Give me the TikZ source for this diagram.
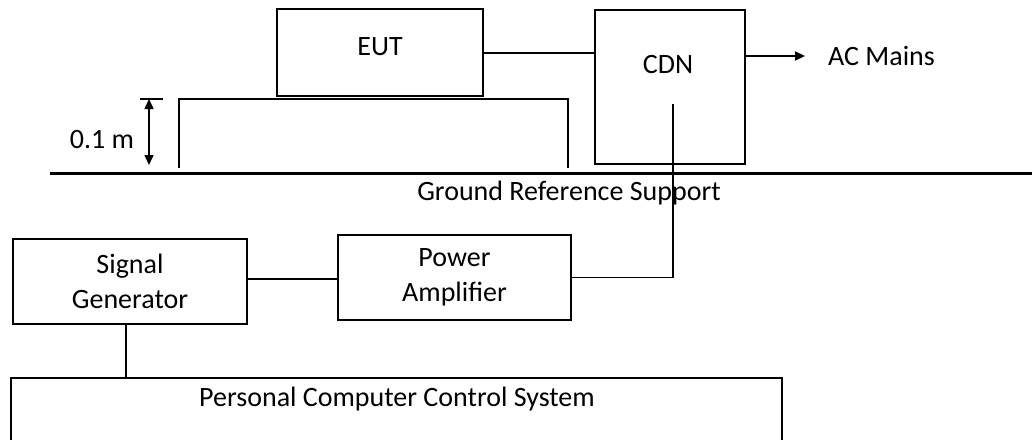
\documentclass[tikz,border=0pt]{standalone}
\usepackage{fontspec}
\setmainfont{Carlito}
\usetikzlibrary{arrows.meta}
\begin{document}
\begin{tikzpicture}[x=1pt, y=-1pt,
  box/.style={draw, line width=2pt, inner sep=0pt, align=center},
  lbl/.style={inner sep=0pt},
  every node/.append style={font=\fontsize{28}{35}\selectfont}]
\clip (0,0) rectangle (1032,439);
% boxes
\node[box, minimum width=206pt, minimum height=87pt] (EUT) at (380,52.5) {};
\node[lbl] at (380,47) {EUT};
\node[box, minimum width=150pt, minimum height=154pt] (CDN) at (670,87) {};
\node[lbl] at (668,65) {CDN};
\node[box, minimum width=234pt, minimum height=85pt] (SG) at (130,281.5) {Signal\\Generator};
\node[box, minimum width=233pt, minimum height=85pt] (PA) at (454.5,277.5) {Power\\Amplifier};
\node[box, minimum width=771pt, minimum height=100pt] (PC) at (396.5,428) {};
\node[lbl] at (397,399) {Personal Computer Control System};
\node[lbl, anchor=west] (mains) at (828,56) {AC Mains};
\node[lbl] (grs) at (569,193) {Ground Reference Support};
\node[lbl] (dim) at (102,140) {0.1 m};
% table and ground
\draw[line width=1.6pt] (179,168) -- (179,99) -- (568,99) -- (568,168);
\draw[line width=3pt] (50,173) -- (1032,173);
\draw[line width=2pt] (140,99) -- (163,99);
\draw[line width=1.5pt, {Triangle[width=9pt,length=10pt]}-{Triangle[width=9pt,length=10pt]}] (149,99) -- (149,165);
% cables
\coordinate (cdnin) at (673,104);
\draw[line width=2pt] (EUT.east) -- (EUT.east -| CDN.west);
\draw[line width=2pt, -{Triangle[width=9pt,length=10pt]}] (CDN.east |- mains.west) -- ([xshift=-23pt]mains.west);
\draw[line width=1.6pt] (cdnin) |- (PA.east);
\draw[line width=2pt] (SG.east |- 0,279) -- (PA.west |- 0,279);
\draw[line width=2pt] ([xshift=-4pt]SG.south) -- ([xshift=-4pt]SG.south |- PC.north);
\end{tikzpicture}
\end{document}
